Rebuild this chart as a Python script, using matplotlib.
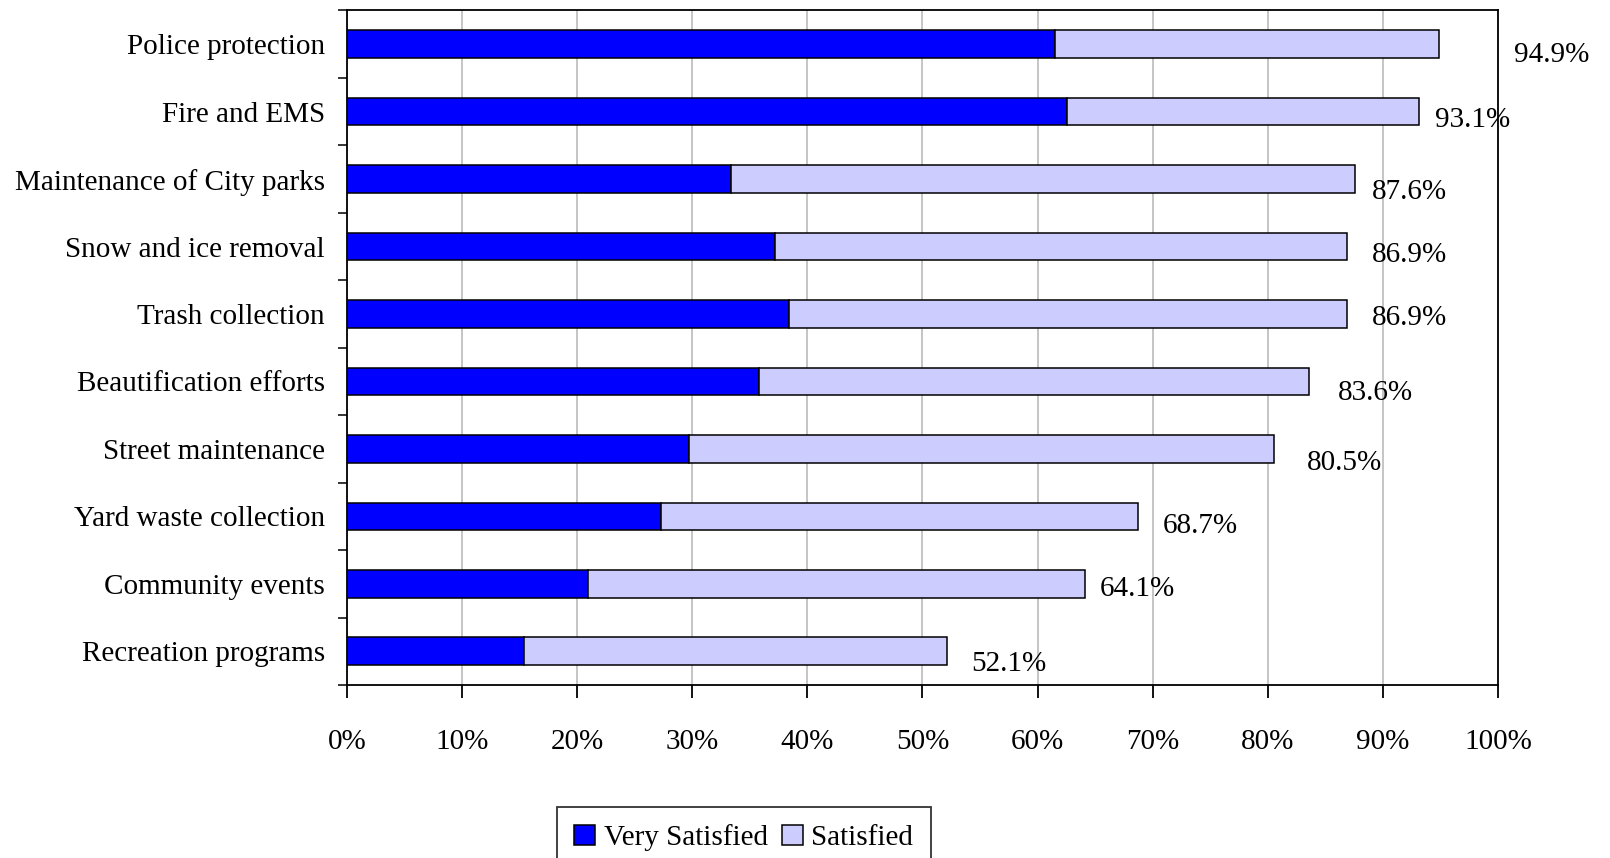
import matplotlib
matplotlib.use("Agg")
import matplotlib.pyplot as plt
import numpy as np

plt.rcParams['font.family'] = ['Liberation Serif', 'DejaVu Serif']
plt.rcParams['font.size'] = 21

services = ["Police protection", "Fire and EMS", "Maintenance of City parks",
            "Snow and ice removal", "Trash collection", "Beautification efforts",
            "Street maintenance", "Yard waste collection", "Community events",
            "Recreation programs"]
very_satisfied = [61.5, 62.6, 33.4, 37.2, 38.4, 35.8, 29.7, 27.3, 20.9, 15.4]
total = [94.9, 93.1, 87.6, 86.9, 86.9, 83.6, 80.5, 68.7, 64.1, 52.1]
satisfied = [t - v for t, v in zip(total, very_satisfied)]
total_labels = ["94.9%", "93.1%", "87.6%", "86.9%", "86.9%", "83.6%",
                "80.5%", "68.7%", "64.1%", "52.1%"]

# label offsets (points) right of the bar end / below bar centre, as in the original
label_dx = [54, 12, 12, 18, 18, 21, 24, 18, 11, 18]
label_dy = [-8, -6, -9, -6, -3, -8, -10, -7, -4, -9]

fig = plt.figure(figsize=(16.1, 8.58), dpi=100)
ax = fig.add_axes([0.2155, 0.2016, 0.7149, 0.7862])

y = np.arange(len(services))[::-1]
h = 0.41
ax.barh(y, very_satisfied, h, color="#0000ff", edgecolor="black", linewidth=1.1,
        label="Very Satisfied", zorder=3)
ax.barh(y, satisfied, h, left=very_satisfied, color="#ccccff", edgecolor="black",
        linewidth=1.1, label="Satisfied", zorder=3)

for yi, t, lab, dx, dy in zip(y, total, total_labels, label_dx, label_dy):
    ax.annotate(lab, xy=(t, yi), xytext=(dx, dy), textcoords="offset points",
                ha="left", va="center", annotation_clip=False)

ax.set_xlim(0, 100)
ax.set_ylim(-0.5, len(services) - 0.5)
ax.set_xticks(np.arange(0, 101, 10))
ax.set_xticklabels(["{}%".format(v) for v in range(0, 101, 10)])
ax.set_yticks(np.arange(-0.5, len(services), 1.0))
ax.set_yticklabels([])
ax.set_yticks(y, minor=True)
ax.set_yticklabels(services, minor=True)
ax.tick_params(axis="y", which="major", direction="out", length=6.5, width=1.1)
ax.tick_params(axis="y", which="minor", length=0, pad=16)
ax.tick_params(axis="x", direction="out", length=9.5, width=1.3, pad=22)
ax.xaxis.grid(True, color="#c0c0c0", linewidth=1.3, zorder=0)
ax.set_axisbelow(True)
for s in ax.spines.values():
    s.set_color("black")
    s.set_linewidth(1.3)

leg = fig.legend(loc="upper center", bbox_to_anchor=(0.462, 1 - 807 / 858),
                 bbox_transform=fig.transFigure, ncol=2, frameon=True,
                 fancybox=False, edgecolor="black", handlelength=0.7,
                 handleheight=0.65, handletextpad=0.3, columnspacing=0.5,
                 borderpad=0.6, borderaxespad=0, fontsize=21)
leg.get_frame().set_linewidth(1.3)

fig.savefig("out.png", dpi=100)
